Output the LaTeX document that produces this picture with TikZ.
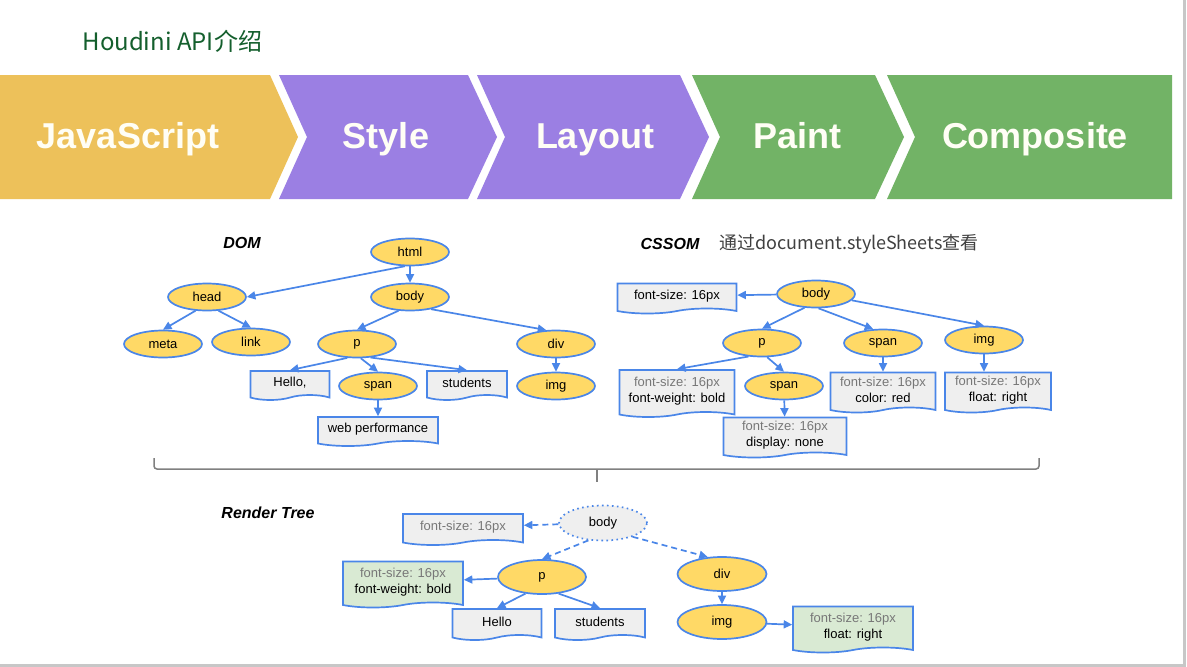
\documentclass[tikz,border=0pt]{standalone}
\usepackage{fontspec}
\setmainfont{Liberation Sans}
\newfontfamily\cjk{Noto Sans CJK SC}
\usepackage{xcolor}
\usetikzlibrary{arrows.meta}
\usetikzlibrary{shapes.geometric}
\usetikzlibrary{shapes.symbols}

\definecolor{gblue}{RGB}{74,134,232}
\definecolor{gyellow}{RGB}{255,217,102}
\definecolor{ggray}{RGB}{239,239,239}
\definecolor{ggreen}{RGB}{217,234,211}
\definecolor{jsyellow}{RGB}{237,193,90}
\definecolor{stpurple}{RGB}{155,127,227}
\definecolor{ptgreen}{RGB}{114,179,102}
\definecolor{titlegreen}{RGB}{20,95,45}
\definecolor{txtgray}{RGB}{119,119,119}
\definecolor{notegray}{RGB}{64,64,64}

\newcommand{\nodefont}{\fontsize{13}{16}\selectfont}
\newcommand{\softtxt}[1]{\textcolor{txtgray}{#1}}

\begin{document}
\begin{tikzpicture}[x=1pt, y=-1pt,
    >={Triangle[length=8.5pt,width=8pt]},
    elem/.style={ellipse, draw=gblue, fill=gyellow, line width=1.7pt,
      minimum width=78pt, minimum height=27pt, inner sep=0pt, font=\nodefont},
    doc/.style={tape, tape bend top=none, tape bend bottom=in and out,
      tape bend height=5pt, draw=gblue, fill=ggray, line width=1.7pt,
      inner sep=2pt, align=center, font=\nodefont},
    arr/.style={->, draw=gblue, line width=1.7pt},
    dasharr/.style={arr, dash pattern=on 6pt off 4pt},
    heading/.style={anchor=base, font=\bfseries\itshape\fontsize{16}{19}\selectfont},
    band/.style={anchor=base, text=white!96!yellow, font=\bfseries\fontsize{36}{40}\selectfont}]
\useasboundingbox (0,0) rectangle (1187,667);
\fill[white] (0,0) rectangle (1187,667);

% slide frame
\draw[black!22, line width=3pt] (1184,0) -- (1184,665) -- (0,665);

\node[anchor=west, text=titlegreen, font=\cjk\fontsize{24}{28}\selectfont] (title) at (79,41) {Houdini API介绍};

% pipeline
\fill[jsyellow] (0,75) -- (270,75) -- (298,137) -- (270,199) -- (0,199) -- cycle;
\foreach \xa/\xb/\col in {279/468/stpurple, 477/680/stpurple, 692/875/ptgreen}
  \fill[\col] (\xa,75) -- (\xb,75) -- (\xb+29,137) -- (\xb,199) -- (\xa,199) -- (\xa+28,137) -- cycle;
\fill[ptgreen] (887,75) -- (1172,75) -- (1172,199) -- (887,199) -- (915,137) -- cycle;
\node[band] (tjs) at (128,148) {JavaScript};
\node[band] (tstyle) at (386,148) {Style};
\node[band] (tlayout) at (595,148) {Layout};
\node[band] (tpaint) at (797,148) {Paint};
\node[band] (tcomp) at (1035,148) {Composite};

% DOM
\node[heading] (domlbl) at (242,248) {DOM};
\node[elem] (dhtml) at (410,252) {html};
\node[elem] (dhead) at (207,297) {head};
\node[elem] (dbody) at (410,297) {body};
\node[elem] (dmeta) at (163,344) {meta};
\node[elem] (dlink) at (251,342) {link};
\node[elem] (dp) at (357,344) {p};
\node[elem] (ddiv) at (556,344) {div};
\node[elem] (dspan) at (378,386) {span};
\node[elem] (dimg) at (556,386) {img};
\node[doc, minimum width=79pt, minimum height=29pt] (dhello) at (290,383) {Hello,};
\node[doc, minimum width=80pt, minimum height=29pt] (dstud) at (467,383) {students};
\node[doc, minimum width=120pt, minimum height=29pt] (dweb) at (378,429) {web performance};

\draw[arr] (dhtml.250) -- (dhead.east);
\draw[arr] (dhtml) -- (dbody);
\draw[arr] (dhead.230) -- (dmeta.north);
\draw[arr] (dhead.310) -- (dlink.north);
\draw[arr] (dbody.230) -- (dp.north);
\draw[arr] (dbody.330) -- (ddiv.125);
\draw[arr] (dp.235) -- (dhello.north);
\draw[arr] (dp.285) -- (dspan.north);
\draw[arr] (dp.315) -- (dstud.north);
\draw[arr] (ddiv) -- (dimg);
\draw[arr] (dspan) -- (dweb);

% CSSOM
\node[heading] (csslbl) at (670,249) {CSSOM};
\node[anchor=base west, text=notegray, font=\cjk\fontsize{18}{22}\selectfont] (cssnote) at (716,249) {通过document.styleSheets查看};
\node[elem] (cbody) at (816,294) {body};
\node[doc, minimum width=119pt, minimum height=30pt] (cfs) at (677,296) {font-size: 16px};
\node[elem] (cp) at (762,343) {p};
\node[elem] (cspan) at (883,343) {span};
\node[elem] (cimg) at (984,340) {img};
\node[elem] (cspanp) at (784,386) {span};
\node[doc, minimum width=115pt, minimum height=47pt] (cpdoc) at (677,391) {\softtxt{font-size: 16px}\\font-weight: bold};
\node[doc, minimum width=105pt, minimum height=40pt] (cspandoc) at (883,390) {\softtxt{font-size: 16px}\\color: red};
\node[doc, minimum width=106pt, minimum height=40pt] (cimgdoc) at (998,390) {\softtxt{font-size: 16px}\\float: right};
\node[doc, minimum width=123pt, minimum height=40pt] (cspanpdoc) at (785,435) {\softtxt{font-size: 16px}\\display: none};

\draw[arr] (cbody) -- (cfs);
\draw[arr] (cbody.230) -- (cp.north);
\draw[arr] (cbody.280) -- (cspan.125);
\draw[arr] (cbody.350) -- (cimg.north);
\draw[arr] (cp.225) -- (cpdoc.north);
\draw[arr] (cp.290) -- (cspanp.north);
\draw[arr] (cspan) -- (cspandoc);
\draw[arr] (cimg.south) -- (cimg.south |- cimgdoc.north);
\draw[arr] (cspanp) -- (cspanpdoc);

% brace
\draw[black!50, line width=1.5pt, rounded corners=3pt] (154,458) -- (154,469) -- (1039,469) -- (1039,458);
\draw[black!50, line width=1.5pt] (597,469) -- (597,482);

% render tree
\node[heading] (rtlbl) at (268,518) {Render Tree};
\node[doc, minimum width=120pt, minimum height=31pt] (rfs) at (463,527) {\softtxt{font-size: 16px}};
\node[elem, fill=ggray, dash pattern=on 1.6pt off 3.4pt, minimum width=88pt, minimum height=35pt] (rbody) at (603,523) {body};
\node[doc, fill=ggreen, minimum width=120pt, minimum height=46pt] (rpdoc) at (403,582) {\softtxt{font-size: 16px}\\font-weight: bold};
\node[elem, minimum width=88pt, minimum height=34pt] (rp) at (542,577) {p};
\node[doc, minimum width=89pt, minimum height=31pt] (rhello) at (497,622) {Hello};
\node[doc, minimum width=90pt, minimum height=31pt] (rstud) at (600,622) {students};
\node[elem, minimum width=89pt, minimum height=34pt] (rdiv) at (722,574) {div};
\node[elem, minimum width=89pt, minimum height=34pt] (rimg) at (722,622) {img};
\node[doc, fill=ggreen, minimum width=120pt, minimum height=46pt] (rimgdoc) at (853,627) {\softtxt{font-size: 16px}\\float: right};

\draw[dasharr] (rbody) -- (rfs);
\draw[dasharr] (rbody.230) -- (rp.north);
\draw[dasharr] (rbody.335) -- (rdiv.130);
\draw[arr] (rp) -- (rpdoc);
\draw[arr] (rp.225) -- (rhello.north);
\draw[arr] (rp.315) -- (rstud.north);
\draw[arr] (rdiv) -- (rimg);
\draw[arr] (rimg) -- (rimgdoc);
\end{tikzpicture}
\end{document}
